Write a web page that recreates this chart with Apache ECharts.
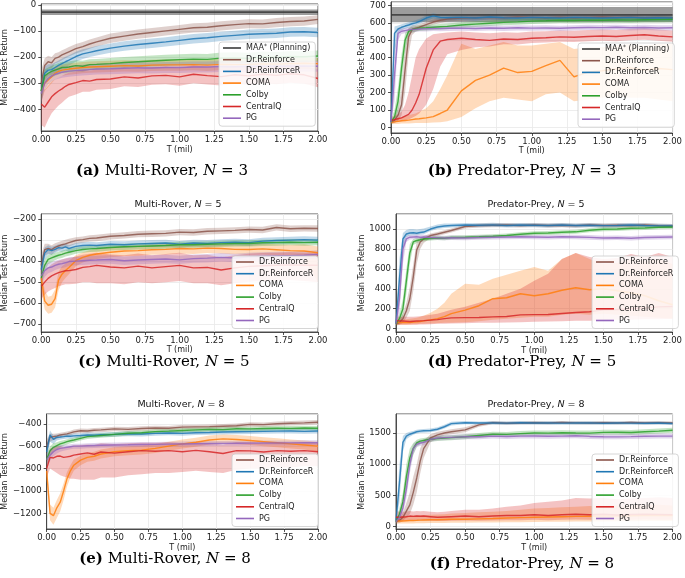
<!DOCTYPE html>
<html>
<head>
<meta charset="utf-8">
<script src="https://cdn.jsdelivr.net/npm/echarts@6/dist/echarts.min.js"></script>
<style>
  html, body { margin: 0; padding: 0; background: #fff; }
  #main { width: 685px; height: 578px; }
</style>
</head>
<body>
<div id="main"></div>
<script>
// training steps (millions)
const X = [0, 0.025, 0.05, 0.075, 0.1, 0.125, 0.15, 0.175, 0.2, 0.25, 0.3, 0.35, 0.4, 0.5, 0.6, 0.7, 0.8, 0.9, 1.0, 1.1, 1.2, 1.3, 1.4, 1.5, 1.6, 1.7, 1.8, 1.9, 2.0];
const MAA_X = [0, 2];

// (a) Multi-Rover N=3
const aMaa = [-28, -28], aMaaLo = [-39, -39], aMaaHi = [-18, -18];
const aDr   = [-300,-232,-218,-222,-205,-200,-192,-186,-180,-168,-160,-150,-142,-128,-120,-112,-106,-100,-94,-88,-86,-80,-76,-72,-73,-68,-64,-62,-56];
const aDrLo = [-350,-265,-245,-245,-225,-220,-212,-205,-198,-186,-178,-168,-160,-146,-138,-130,-124,-118,-112,-106,-104,-98,-94,-90,-91,-86,-82,-80,-74];
const aDrHi = [-250,-205,-195,-200,-185,-182,-174,-168,-162,-150,-142,-133,-125,-110,-102,-95,-89,-83,-77,-71,-69,-63,-59,-55,-56,-51,-47,-45,-40];
const aDrR   = [-330,-262,-250,-248,-240,-232,-225,-218,-212,-198,-188,-182,-176,-166,-158,-152,-147,-142,-136,-130,-126,-121,-117,-113,-111,-109,-104,-103,-106];
const aDrRLo = [-380,-290,-272,-268,-260,-252,-245,-238,-232,-218,-207,-200,-194,-184,-176,-170,-165,-160,-154,-148,-144,-139,-135,-131,-129,-127,-122,-121,-124];
const aDrRHi = [-280,-236,-228,-228,-220,-213,-206,-199,-193,-180,-170,-164,-158,-148,-140,-134,-129,-124,-118,-112,-108,-103,-99,-95,-93,-91,-86,-85,-88];
const aComa   = [-330,-300,-288,-275,-262,-255,-250,-248,-246,-243,-240,-238,-237,-235,-233,-234,-231,-230,-230,-229,-231,-228,-229,-228,-226,-227,-225,-224,-225];
const aComaLo = [-370,-330,-315,-300,-285,-278,-272,-270,-268,-265,-262,-260,-259,-257,-255,-256,-253,-252,-252,-251,-253,-250,-251,-250,-248,-249,-247,-246,-247];
const aComaHi = [-290,-272,-262,-252,-240,-234,-229,-227,-225,-222,-219,-217,-216,-214,-212,-213,-210,-209,-209,-208,-210,-207,-208,-207,-205,-206,-204,-203,-204];
const aColby   = [-330,-272,-262,-255,-250,-245,-240,-240,-238,-233,-235,-229,-228,-225,-221,-218,-215,-212,-210,-208,-209,-204,-203,-205,-200,-202,-198,-199,-196];
const aColbyLo = [-380,-300,-285,-278,-272,-267,-262,-262,-259,-254,-256,-250,-249,-246,-242,-239,-236,-233,-231,-229,-230,-225,-224,-226,-221,-223,-219,-220,-217];
const aColbyHi = [-290,-248,-240,-233,-228,-223,-218,-218,-217,-212,-214,-208,-207,-204,-200,-197,-194,-191,-189,-187,-188,-183,-182,-184,-179,-181,-177,-178,-175];
const aCQ   = [-380,-392,-372,-352,-340,-330,-322,-312,-305,-298,-290,-292,-286,-284,-276,-280,-272,-270,-276,-266,-271,-275,-268,-272,-266,-270,-264,-268,-282];
const aCQLo = [-460,-470,-440,-415,-400,-385,-375,-362,-352,-343,-333,-333,-325,-322,-312,-315,-306,-304,-310,-300,-305,-309,-302,-306,-300,-304,-298,-302,-316];
const aCQHi = [-310,-325,-310,-295,-285,-278,-272,-265,-260,-255,-250,-252,-248,-247,-240,-245,-238,-236,-242,-232,-237,-241,-234,-238,-232,-236,-230,-234,-248];
const aPG   = [-340,-300,-282,-272,-266,-262,-258,-256,-254,-252,-250,-248,-246,-245,-243,-241,-242,-240,-240,-238,-238,-236,-237,-235,-235,-234,-235,-234,-235];
const aPGLo = [-380,-325,-305,-294,-287,-283,-279,-277,-275,-273,-271,-269,-267,-266,-264,-262,-263,-261,-261,-259,-259,-257,-258,-256,-256,-255,-256,-255,-256];
const aPGHi = [-300,-276,-260,-251,-245,-241,-237,-235,-233,-231,-229,-227,-225,-224,-222,-220,-221,-219,-219,-217,-217,-215,-216,-214,-214,-213,-214,-213,-214];

// (b) Predator-Prey N=3
const bMaa = [646, 646], bMaaLo = [604, 604], bMaaHi = [692, 692];
const bDr   = [30,40,70,130,330,520,562,570,575,590,605,615,622,628,630,632,630,634,632,630,633,630,632,634,631,633,630,632,630];
const bDrLo = [20,25,40,70,200,420,530,550,558,575,590,600,608,614,616,618,616,620,618,616,619,616,618,620,617,619,616,618,616];
const bDrHi = [45,60,110,220,450,570,585,588,592,605,620,630,636,642,644,646,644,648,646,644,647,644,646,648,645,647,644,646,644];
const bDrR   = [30,540,565,575,582,588,595,600,608,628,640,632,630,632,628,634,630,628,632,630,628,632,630,628,630,632,628,630,628];
const bDrRLo = [20,420,545,558,566,572,580,585,593,613,625,617,615,617,613,619,615,613,617,615,613,617,615,613,615,617,613,615,613];
const bDrRHi = [45,580,585,592,598,604,610,615,623,643,655,647,645,647,643,649,645,643,647,645,643,647,645,643,645,647,643,645,643];
const bComa   = [30,32,35,38,40,42,45,48,50,55,62,80,100,210,270,300,340,315,322,355,385,290,318,325,335,342,330,338,332];
const bComaLo = [20,20,20,22,22,22,24,25,25,25,28,30,35,60,110,150,170,160,150,190,200,150,160,170,180,170,170,160,150];
const bComaHi = [45,50,55,60,65,70,75,80,90,110,150,220,300,480,450,470,490,470,470,480,490,450,460,460,470,480,470,480,480];
const bColby   = [30,60,150,340,500,552,562,566,570,572,575,578,580,588,593,598,603,606,610,612,615,614,616,615,617,616,618,619,620];
const bColbyLo = [20,35,90,250,440,530,545,550,554,556,559,562,564,572,577,582,587,590,594,596,599,598,600,599,601,600,602,603,604];
const bColbyHi = [45,100,230,420,540,570,578,582,586,588,591,594,596,604,609,614,619,622,626,628,631,630,632,631,633,632,634,635,636];
const bCQ   = [40,45,50,55,65,75,100,140,190,340,445,495,505,512,505,500,508,505,512,515,520,518,522,525,522,528,532,525,520];
const bCQLo = [25,30,32,35,40,45,55,65,80,130,220,350,420,445,460,465,478,476,485,488,492,490,494,497,494,500,504,497,492];
const bCQHi = [60,65,75,90,130,200,300,400,450,510,535,540,545,550,545,540,546,543,550,552,557,555,559,562,559,565,569,562,557];
const bPG   = [30,300,540,552,556,560,562,563,565,566,568,567,569,570,568,571,569,572,570,571,569,572,574,573,575,572,574,571,572];
const bPGLo = [20,150,500,536,541,545,547,548,550,551,553,552,554,555,553,556,554,557,555,556,554,557,559,558,560,557,559,556,557];
const bPGHi = [45,450,565,568,571,575,577,578,580,581,583,582,584,585,583,586,584,587,585,586,584,587,589,588,590,587,589,586,587];

// (c) Multi-Rover N=5
const cDr   = [-420,-345,-340,-345,-335,-328,-322,-318,-312,-302,-298,-292,-290,-282,-278,-272,-270,-268,-262,-264,-258,-256,-254,-250,-252,-240,-246,-244,-245];
const cDrLo = [-470,-375,-365,-368,-356,-348,-342,-337,-330,-318,-313,-307,-305,-297,-293,-287,-285,-283,-277,-279,-273,-271,-269,-265,-267,-255,-261,-259,-260];
const cDrHi = [-370,-318,-318,-325,-315,-309,-303,-299,-294,-286,-283,-277,-275,-267,-263,-257,-255,-253,-247,-249,-243,-241,-239,-235,-237,-225,-231,-229,-230];
const cDrR   = [-440,-362,-345,-350,-344,-336,-338,-332,-340,-330,-326,-324,-326,-320,-322,-318,-316,-314,-320,-314,-316,-312,-310,-312,-305,-302,-300,-298,-300];
const cDrRLo = [-490,-395,-368,-370,-362,-353,-355,-349,-357,-346,-342,-340,-342,-336,-338,-334,-332,-330,-336,-330,-332,-328,-326,-328,-321,-318,-316,-314,-316];
const cDrRHi = [-390,-335,-325,-332,-327,-320,-322,-316,-324,-314,-310,-308,-310,-304,-306,-302,-300,-298,-304,-298,-300,-296,-294,-296,-289,-286,-284,-282,-284];
const cComa   = [-480,-590,-610,-605,-578,-490,-462,-445,-430,-398,-382,-372,-366,-358,-352,-350,-346,-344,-340,-342,-338,-340,-344,-345,-342,-346,-350,-352,-360];
const cComaLo = [-540,-630,-650,-645,-620,-540,-500,-480,-462,-425,-407,-396,-390,-382,-376,-374,-370,-368,-364,-366,-362,-364,-368,-370,-368,-372,-378,-390,-500];
const cComaHi = [-430,-540,-570,-565,-535,-450,-425,-412,-398,-372,-358,-348,-342,-334,-328,-326,-322,-320,-316,-318,-314,-316,-320,-320,-316,-320,-322,-320,-330];
const cColby   = [-480,-420,-392,-385,-378,-372,-368,-362,-358,-350,-345,-342,-340,-335,-332,-330,-328,-326,-322,-322,-320,-318,-316,-316,-313,-312,-310,-312,-310];
const cColbyLo = [-520,-450,-415,-405,-396,-389,-385,-378,-374,-365,-360,-357,-355,-350,-347,-345,-343,-341,-337,-337,-335,-333,-331,-331,-328,-327,-325,-327,-325];
const cColbyHi = [-440,-392,-370,-366,-360,-355,-351,-346,-342,-335,-330,-327,-325,-320,-317,-315,-313,-311,-307,-307,-305,-303,-301,-301,-298,-297,-295,-297,-295];
const cCQ   = [-520,-500,-482,-470,-462,-455,-450,-446,-445,-440,-430,-426,-420,-428,-432,-424,-432,-426,-420,-432,-430,-442,-432,-425,-422,-420,-418,-420,-420];
const cCQLo = [-580,-560,-545,-535,-528,-520,-515,-510,-510,-508,-500,-500,-505,-505,-510,-500,-505,-500,-495,-505,-505,-515,-505,-498,-495,-492,-490,-495,-500];
const cCQHi = [-470,-450,-430,-415,-405,-398,-392,-388,-385,-378,-370,-365,-360,-368,-372,-364,-372,-366,-360,-372,-370,-382,-372,-365,-362,-360,-358,-360,-360];
const cPG   = [-470,-445,-432,-428,-420,-415,-412,-408,-402,-400,-398,-396,-395,-392,-398,-395,-392,-390,-394,-388,-386,-382,-385,-380,-378,-376,-374,-372,-368];
const cPGLo = [-510,-475,-458,-452,-442,-436,-433,-429,-422,-420,-418,-416,-415,-412,-418,-415,-412,-410,-414,-408,-406,-402,-405,-400,-398,-396,-394,-392,-388];
const cPGHi = [-430,-415,-406,-404,-398,-394,-391,-387,-382,-380,-378,-376,-375,-372,-378,-375,-372,-370,-374,-368,-366,-362,-365,-360,-358,-356,-354,-352,-348];

// (d) Predator-Prey N=5
const dDr   = [50,60,100,180,300,520,790,870,900,935,950,968,985,1025,1035,1038,1040,1035,1040,1036,1038,1034,1040,1036,1038,1035,1040,1034,1030];
const dDrLo = [30,40,60,110,180,380,650,800,860,910,930,948,965,1005,1015,1018,1020,1015,1020,1016,1018,1014,1020,1016,1018,1015,1020,1014,1010];
const dDrHi = [70,80,150,260,420,650,880,910,930,955,970,988,1005,1045,1055,1058,1060,1055,1060,1056,1058,1054,1060,1056,1058,1055,1060,1054,1050];
const dDrR   = [50,500,900,950,960,962,958,965,970,1000,1020,1030,1035,1040,1038,1042,1036,1040,1038,1035,1040,1036,1038,1034,1036,1040,1035,1032,1030];
const dDrRLo = [30,300,800,920,935,938,935,942,948,980,1000,1010,1015,1020,1018,1022,1016,1020,1018,1015,1020,1016,1018,1014,1016,1020,1015,1012,1010];
const dDrRHi = [70,700,960,990,1000,1000,995,1000,1005,1025,1045,1055,1055,1060,1058,1062,1056,1060,1058,1055,1060,1056,1058,1054,1056,1060,1055,1052,1050];
const dComa   = [60,60,62,60,62,65,68,72,78,88,100,120,150,185,230,300,310,350,330,350,385,410,390,400,380,360,330,280,240];
const dComaLo = [40,40,40,40,42,44,45,48,50,52,55,58,60,65,75,90,100,110,120,120,140,150,140,150,140,130,120,110,100];
const dComaHi = [90,90,92,95,100,105,110,120,130,160,200,260,350,450,440,500,540,580,620,580,700,760,700,650,660,700,680,700,650];
const dColby   = [50,100,200,480,760,870,885,892,900,905,910,908,915,918,922,928,935,948,958,960,968,972,988,998,1000,1008,1010,1018,1020];
const dColbyLo = [30,60,120,350,650,840,860,870,878,885,890,888,895,898,902,908,915,928,938,940,948,952,968,978,980,988,990,998,1000];
const dColbyHi = [70,150,300,600,850,900,910,915,922,925,930,928,935,938,942,948,955,968,978,980,988,992,1008,1018,1020,1028,1030,1038,1040];
const dCQ   = [80,78,76,74,72,74,76,78,80,85,90,100,108,110,112,118,122,138,140,142,152,162,170,188,192,200,208,218,222];
const dCQLo = [40,40,40,40,40,40,40,42,42,45,48,50,52,55,58,60,62,65,70,72,75,80,80,85,90,90,95,95,100];
const dCQHi = [120,120,118,118,118,120,122,125,128,140,150,170,190,220,260,300,350,400,480,550,700,760,720,700,710,750,720,760,720];
const dPG   = [50,300,800,900,918,920,922,918,920,915,912,910,912,910,915,918,920,922,920,918,922,920,916,910,912,908,915,918,920];
const dPGLo = [30,150,650,870,895,897,899,895,897,892,889,887,889,887,892,895,897,899,897,895,899,897,893,887,889,885,892,895,897];
const dPGHi = [70,450,880,930,941,943,945,941,943,938,935,933,935,933,938,941,943,945,943,941,945,943,939,933,935,931,938,941,943];

// (e) Multi-Rover N=8
const eDr   = [-600,-520,-515,-510,-500,-495,-490,-482,-472,-462,-465,-458,-455,-446,-450,-442,-438,-440,-430,-428,-426,-422,-418,-406,-408,-400,-396,-392,-386];
const eDrLo = [-680,-560,-545,-535,-522,-515,-510,-502,-492,-482,-485,-478,-475,-466,-470,-462,-458,-460,-450,-448,-446,-442,-438,-426,-428,-420,-416,-412,-406];
const eDrHi = [-540,-490,-490,-488,-480,-475,-470,-462,-452,-442,-445,-438,-435,-426,-430,-422,-418,-420,-410,-408,-406,-402,-398,-386,-388,-380,-376,-372,-366];
const eDrR   = [-650,-500,-540,-520,-518,-515,-510,-512,-508,-505,-500,-502,-498,-495,-490,-492,-486,-482,-486,-480,-478,-474,-472,-470,-468,-466,-465,-468,-465];
const eDrRLo = [-720,-560,-580,-550,-540,-536,-531,-533,-529,-526,-521,-523,-519,-516,-511,-513,-507,-503,-507,-501,-499,-495,-493,-491,-489,-487,-486,-489,-486];
const eDrRHi = [-580,-460,-505,-495,-497,-494,-489,-491,-487,-484,-479,-481,-477,-474,-469,-471,-465,-461,-465,-459,-457,-453,-451,-449,-447,-445,-444,-447,-444];
const eComa   = [-820,-1200,-1220,-1150,-1100,-1000,-890,-820,-770,-725,-700,-690,-670,-650,-640,-635,-620,-600,-580,-565,-545,-535,-540,-550,-560,-570,-580,-590,-600];
const eComaLo = [-900,-1260,-1300,-1240,-1180,-1080,-960,-880,-820,-770,-740,-730,-710,-690,-680,-675,-660,-640,-620,-605,-585,-575,-580,-590,-600,-610,-620,-630,-650];
const eComaHi = [-760,-1120,-1150,-1080,-1020,-930,-830,-770,-720,-685,-660,-650,-630,-610,-600,-595,-580,-560,-540,-525,-505,-495,-500,-510,-520,-530,-540,-550,-560];
const eColby   = [-720,-640,-610,-595,-580,-570,-560,-552,-545,-530,-515,-510,-505,-495,-485,-480,-470,-466,-460,-455,-450,-452,-445,-446,-442,-440,-441,-438,-440];
const eColbyLo = [-780,-690,-650,-630,-610,-597,-585,-575,-567,-550,-535,-530,-525,-515,-505,-500,-490,-486,-480,-475,-470,-472,-465,-466,-462,-460,-461,-458,-460];
const eColbyHi = [-660,-600,-575,-565,-555,-547,-538,-532,-525,-510,-495,-490,-485,-475,-465,-460,-450,-446,-440,-435,-430,-432,-425,-426,-422,-420,-421,-418,-420];
const eCQ   = [-800,-700,-705,-690,-688,-700,-695,-690,-680,-670,-660,-672,-652,-662,-650,-640,-645,-640,-650,-638,-650,-665,-640,-642,-652,-640,-645,-640,-650];
const eCQLo = [-880,-800,-820,-840,-860,-870,-880,-890,-890,-900,-900,-900,-880,-880,-860,-850,-840,-840,-830,-820,-830,-840,-810,-800,-800,-790,-790,-780,-780];
const eCQHi = [-720,-620,-610,-600,-600,-610,-610,-600,-595,-590,-585,-590,-575,-580,-575,-570,-570,-565,-575,-565,-575,-585,-565,-565,-575,-565,-570,-565,-575];
const ePG   = [-720,-680,-650,-630,-620,-615,-610,-605,-600,-600,-596,-594,-592,-590,-588,-585,-584,-582,-580,-578,-576,-575,-574,-573,-572,-572,-571,-570,-570];
const ePGLo = [-780,-730,-690,-665,-650,-640,-634,-628,-622,-622,-618,-616,-614,-612,-610,-607,-606,-604,-602,-600,-598,-597,-596,-595,-594,-594,-593,-592,-592];
const ePGHi = [-660,-630,-610,-595,-590,-590,-586,-582,-578,-578,-574,-572,-570,-568,-566,-563,-562,-560,-558,-556,-554,-553,-552,-551,-550,-550,-549,-548,-548];

// (f) Predator-Prey N=8
const fDr   = [80,100,150,250,350,550,780,1050,1250,1420,1470,1500,1520,1550,1630,1665,1655,1660,1665,1660,1668,1662,1660,1665,1660,1668,1662,1665,1660];
const fDrLo = [50,60,90,150,200,350,550,850,1100,1350,1420,1460,1480,1510,1600,1640,1630,1635,1640,1635,1643,1637,1635,1640,1635,1643,1637,1640,1635];
const fDrHi = [110,140,220,380,550,800,1000,1250,1380,1480,1520,1540,1560,1590,1660,1690,1680,1685,1690,1685,1693,1687,1685,1690,1685,1693,1687,1690,1685];
const fDrR   = [100,700,1350,1450,1480,1500,1520,1530,1535,1540,1560,1600,1650,1665,1660,1662,1658,1665,1660,1662,1658,1660,1662,1656,1660,1658,1655,1660,1652];
const fDrRLo = [60,400,1200,1400,1440,1470,1490,1500,1505,1510,1530,1570,1620,1640,1635,1637,1633,1640,1635,1637,1633,1635,1637,1631,1635,1633,1630,1635,1627];
const fDrRHi = [150,1000,1450,1500,1520,1530,1550,1560,1565,1570,1590,1630,1680,1690,1685,1687,1683,1690,1685,1687,1683,1685,1687,1681,1685,1683,1680,1685,1677];
const fComa   = [100,90,92,95,98,100,102,105,108,110,112,115,118,120,125,130,140,145,150,155,160,165,168,170,172,175,178,180,180];
const fComaLo = [50,50,50,50,52,52,54,55,56,58,60,60,62,64,66,68,70,72,75,78,80,82,84,85,86,88,90,90,90];
const fComaHi = [180,170,170,170,175,178,180,182,185,190,195,200,210,220,230,240,250,270,290,300,310,320,330,330,340,340,350,350,340];
const fColby   = [80,200,400,800,1100,1250,1340,1370,1380,1400,1410,1420,1425,1440,1460,1480,1478,1490,1500,1498,1505,1500,1498,1510,1512,1508,1520,1530,1545];
const fColbyLo = [50,120,280,600,950,1150,1280,1320,1340,1360,1370,1380,1385,1400,1420,1440,1440,1450,1460,1458,1465,1460,1458,1470,1472,1468,1480,1490,1505];
const fColbyHi = [110,300,550,1000,1250,1340,1390,1410,1420,1440,1450,1460,1465,1480,1500,1520,1516,1530,1540,1538,1545,1540,1538,1550,1552,1548,1560,1570,1585];
const fCQ   = [150,150,155,160,170,165,170,168,170,160,150,155,160,170,160,170,180,178,190,180,192,200,190,198,188,195,200,195,190];
const fCQLo = [80,85,90,95,100,95,100,98,100,95,90,92,95,100,95,100,105,105,110,105,110,115,110,115,110,112,115,112,110];
const fCQHi = [250,240,240,245,250,245,250,248,250,240,230,240,250,270,270,290,320,340,380,400,420,460,450,460,440,450,460,470,460];
const fPG   = [80,150,300,600,1000,1250,1320,1340,1350,1400,1420,1425,1430,1440,1440,1450,1445,1450,1452,1448,1450,1455,1445,1440,1438,1442,1448,1450,1450];
const fPGLo = [50,100,200,450,850,1150,1270,1295,1305,1360,1380,1385,1390,1400,1400,1410,1405,1410,1412,1408,1410,1415,1405,1400,1398,1402,1408,1410,1410];
const fPGHi = [110,220,450,800,1150,1320,1370,1385,1395,1440,1460,1465,1470,1480,1480,1490,1485,1490,1492,1488,1490,1495,1485,1480,1478,1482,1488,1490,1490];

const MAA = 'MAA* (Planning)';
const NAMES = ['Dr.Reinforce', 'Dr.ReinforceR', 'COMA', 'Colby', 'CentralQ', 'PG'];
const COLORS = {
  [MAA]: '#3a3a3a',
  'Dr.Reinforce': '#8c564b',
  'Dr.ReinforceR': '#1f77b4',
  'COMA': '#ff7f0e',
  'Colby': '#2ca02c',
  'CentralQ': '#d62728',
  'PG': '#9467bd'
};
const FONT = 'DejaVu Sans';

const panels = [
  { grid: { left: 38, top: 4, width: 280, height: 127 }, y: [-483, 3, 5], yGap: 31, xGap: 15,
    legend: [219, 42], maa: [aMaa, aMaaLo, aMaaHi],
    lines: [[aDr, aDrLo, aDrHi], [aDrR, aDrRLo, aDrRHi], [aComa, aComaLo, aComaHi], [aColby, aColbyLo, aColbyHi], [aCQ, aCQLo, aCQHi], [aPG, aPGLo, aPGHi]],
    cap: ['(a)', 'Multi-Rover, ', '3', 162, 171] },
  { grid: { left: 391, top: 2, width: 286, height: 131 }, y: [-32, 720, 7], yGap: 25, xGap: 13,
    legend: [578, 43], maa: [bMaa, bMaaLo, bMaaHi],
    lines: [[bDr, bDrLo, bDrHi], [bDrR, bDrRLo, bDrRHi], [bComa, bComaLo, bComaHi], [bColby, bColbyLo, bColbyHi], [bCQ, bCQLo, bCQHi], [bPG, bPGLo, bPGHi]],
    cap: ['(b)', 'Predator-Prey, ', '3', 522, 171] },
  { grid: { left: 38, top: 214, width: 280, height: 118 }, y: [-737, -176, 6], yGap: 31, xGap: 14,
    legend: [232, 256], title: ['Multi-Rover, ', '5', 178, 205],
    lines: [[cDr, cDrLo, cDrHi], [cDrR, cDrRLo, cDrRHi], [cComa, cComaLo, cComaHi], [cColby, cColbyLo, cColbyHi], [cCQ, cCQLo, cCQHi], [cPG, cPGLo, cPGHi]],
    cap: ['(c)', 'Multi-Rover, ', '5', 164, 362] },
  { grid: { left: 396, top: 214, width: 281, height: 118 }, y: [-34, 1151, 6], yGap: 30, xGap: 15,
    legend: [592, 256], title: ['Predator-Prey, ', '5', 536, 205],
    lines: [[dDr, dDrLo, dDrHi], [dDrR, dDrRLo, dDrRHi], [dComa, dComaLo, dComaHi], [dColby, dColbyLo, dColbyHi], [dCQ, dCQLo, dCQHi], [dPG, dPGLo, dPGHi]],
    cap: ['(d)', 'Predator-Prey, ', '5', 522, 362] },
  { grid: { left: 43, top: 414, width: 275, height: 115 }, y: [-1339, -313, 5], yGap: 36, xGap: 15,
    legend: [232, 454], title: ['Multi-Rover, ', '8', 181, 405],
    lines: [[eDr, eDrLo, eDrHi], [eDrR, eDrRLo, eDrRHi], [eComa, eComaLo, eComaHi], [eColby, eColbyLo, eColbyHi], [eCQ, eCQLo, eCQHi], [ePG, ePGLo, ePGHi]],
    cap: ['(e)', 'Multi-Rover, ', '8', 165, 559] },
  { grid: { left: 396, top: 414, width: 281, height: 115 }, y: [-37, 1804, 4], yGap: 30, xGap: 15,
    legend: [592, 454], title: ['Predator-Prey, ', '8', 536, 405],
    lines: [[fDr, fDrLo, fDrHi], [fDrR, fDrRLo, fDrRHi], [fComa, fComaLo, fComaHi], [fColby, fColbyLo, fColbyHi], [fCQ, fCQLo, fCQHi], [fPG, fPGLo, fPGHi]],
    cap: ['(f)', 'Predator-Prey, ', '8', 522, 564] }
];

const minus = v => (v < 0 ? '\u2212' + Math.abs(v) : String(v));
const pairs = (xs, ys) => xs.map((x, k) => [x, ys[k]]);

const grids = [], xAxes = [], yAxes = [], legends = [], series = [], graphics = [];

function addSeries(i, name, xs, mid, lo, hi, bandAlpha) {
  const color = COLORS[name];
  const fill = echarts.color.modifyAlpha(color, bandAlpha);
  // shaded band between lo and hi, drawn as one polygon through the axes
  series.push({
    type: 'custom', name: 'band', xAxisIndex: i, yAxisIndex: i, silent: true, clip: true,
    data: xs.map((x, k) => [x, lo[k], hi[k]]),
    encode: { x: 0, y: [1, 2] },
    renderItem: (params, api) => {
      if (params.dataIndex !== 0) return null;
      const top = xs.map((x, k) => api.coord([x, hi[k]]));
      const bot = xs.map((x, k) => api.coord([x, lo[k]])).reverse();
      return { type: 'polygon', shape: { points: top.concat(bot) }, style: { fill } };
    }
  });
  series.push({
    type: 'line', name, xAxisIndex: i, yAxisIndex: i, data: pairs(xs, mid),
    symbol: 'none', showSymbol: false,
    color, lineStyle: { color, width: name === MAA ? 1.6 : 1.4, opacity: 0.85 }
  });
}

panels.forEach((p, i) => {
  grids.push(Object.assign({ show: true, borderColor: '#262626', borderWidth: 0.8, backgroundColor: 'transparent' }, p.grid));
  xAxes.push({
    gridIndex: i, type: 'value', min: 0, max: 2, interval: 0.25,
    name: 'T (mil)', nameLocation: 'middle', nameGap: p.xGap,
    nameTextStyle: { fontFamily: FONT, fontSize: 8, color: '#222' },
    axisLine: { show: true, onZero: false, lineStyle: { color: '#262626', width: 0.8 } },
    axisTick: { show: true, length: 3, lineStyle: { color: '#262626', width: 0.8 } },
    axisLabel: { fontFamily: FONT, fontSize: 8.5, color: '#222', margin: 4, formatter: v => v.toFixed(2) },
    splitLine: { show: true, lineStyle: { color: '#e8e8e8', width: 0.8 } }
  });
  yAxes.push({
    gridIndex: i, type: 'value', min: p.y[0], max: p.y[1], splitNumber: p.y[2],
    name: 'Median Test Return', nameLocation: 'middle', nameGap: p.yGap,
    nameTextStyle: { fontFamily: FONT, fontSize: 8, color: '#222' },
    axisLine: { show: true, onZero: false, lineStyle: { color: '#262626', width: 0.8 } },
    axisTick: { show: true, length: 3, lineStyle: { color: '#262626', width: 0.8 } },
    axisLabel: { fontFamily: FONT, fontSize: 8.5, color: '#222', margin: 5, showMinLabel: false, showMaxLabel: false, formatter: minus },
    splitLine: { show: true, lineStyle: { color: '#e8e8e8', width: 0.8 } }
  });
  const names = p.maa ? [MAA].concat(NAMES) : NAMES.slice();
  legends.push({
    show: true, orient: 'vertical', left: p.legend[0], top: p.legend[1],
    data: names, selectedMode: false, icon: 'rect',
    itemWidth: 18, itemHeight: 1.6, itemGap: 1.7, padding: [1, 5, 3, 4],
    backgroundColor: 'rgba(255,255,255,0.85)', borderColor: '#cccccc', borderWidth: 0.8, borderRadius: 3,
    formatter: n => (n === MAA ? 'MAA{s|*} (Planning)' : n),
    textStyle: { fontFamily: FONT, fontSize: 8, color: '#222', lineHeight: 10,
      rich: { s: { fontFamily: FONT, fontSize: 6, color: '#222', lineHeight: 10, verticalAlign: 'top', padding: [0, 0, 3, 0] } } }
  });
  if (p.maa) addSeries(i, MAA, MAA_X, p.maa[0], p.maa[1], p.maa[2], 0.5);
  p.lines.forEach((l, j) => addSeries(i, NAMES[j], X, l[0], l[1], l[2], 0.28));

  if (p.title) {
    graphics.push({
      type: 'text', x: p.title[2], y: p.title[3], silent: true,
      style: {
        text: '{r|' + p.title[0] + '}{i|N}{r| = ' + p.title[1] + '}',
        align: 'center', verticalAlign: 'middle', textAlign: 'center', textVerticalAlign: 'middle',
        fontFamily: FONT, fontSize: 9.5, fill: '#111',
        rich: {
          r: { fontFamily: FONT, fontSize: 9.5, fill: '#111' },
          i: { fontFamily: FONT, fontSize: 9.5, fontStyle: 'italic', fill: '#111' }
        }
      }
    });
  }
  const c = p.cap;
  graphics.push({
    type: 'text', x: c[3], y: c[4], silent: true,
    style: {
      text: '{b|' + c[0] + '} {r|' + c[1] + '}{i|N}{r| = ' + c[2] + '}',
      align: 'center', verticalAlign: 'middle', textAlign: 'center', textVerticalAlign: 'middle',
      fontFamily: 'DejaVu Serif', fontSize: 15, fill: '#000',
      rich: {
        b: { fontFamily: 'DejaVu Serif', fontSize: 15, fontWeight: 'bold', fill: '#000' },
        r: { fontFamily: 'DejaVu Serif', fontSize: 15, fill: '#000' },
        i: { fontFamily: 'DejaVu Serif', fontSize: 15, fontStyle: 'italic', fill: '#000' }
      }
    }
  });
});

const chart = echarts.init(document.getElementById('main'), null, { renderer: 'canvas' });
chart.setOption({
  animation: false,
  backgroundColor: '#fff',
  grid: grids,
  xAxis: xAxes,
  yAxis: yAxes,
  legend: legends,
  series,
  graphic: graphics
});
</script>
</body>
</html>
